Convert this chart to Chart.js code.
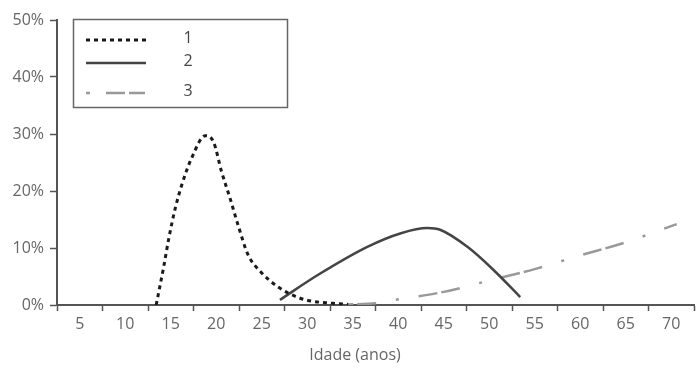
<!DOCTYPE html>
<html>
<head>
<meta charset="utf-8">
<script src="https://cdn.jsdelivr.net/npm/chart.js@4"></script>
<style>
  html, body { margin: 0; padding: 0; background: #fff; }
  #wrap { width: 698px; height: 379px; }
</style>
</head>
<body>
<div id="wrap"><canvas id="chart" width="698" height="379"></canvas></div>
<script>
// age (years) and share (%)
const s1Age = [13.4, 14.2, 14.8, 15.5, 16.2, 17.3, 18.8, 19.7, 20.6, 21.5, 22.4, 23.5, 24.9, 26.5, 27.9, 29.8, 32.8, 34.5];
const s1Pct = [0, 6.5, 11.8, 17, 21, 25.8, 29.7, 28.6, 23.3, 18.8, 14, 8.8, 5.8, 3.5, 2.1, 0.9, 0.3, 0.1];

const s2Age = [27.0, 31.2, 36.6, 40.3, 43.2, 44.6, 47.6, 50.5, 53.4];
const s2Pct = [0.9, 5.3, 10.2, 12.6, 13.5, 13.2, 10.2, 6.1, 1.4];

const s3Age = [34.5, 37.5, 40, 45, 50, 55, 60, 65, 70.6];
const s3Pct = [0.1, 0.3, 1.0, 2.3, 4.3, 6.3, 8.7, 11.0, 14.2];

const seriesNames = ['1', '2', '3'];
const xLabels = [5, 10, 15, 20, 25, 30, 35, 40, 45, 50, 55, 60, 65, 70];
const yTicks = [0, 10, 20, 30, 40, 50];
const xTitle = 'Idade (anos)';

const FONT = '"Open Sans", "Noto Sans", sans-serif';
const TXT = '#666';

function pts(xs, ys) {
    return xs.map((x, i) => ({ x: x, y: ys[i] }));
}

// legend box + axis title drawn by hand
const extras = {
    id: 'extras',
    afterDraw(chart) {
        const ctx = chart.ctx;
        ctx.save();
        ctx.strokeStyle = '#666';
        ctx.lineWidth = 1.5;
        ctx.strokeRect(73.5, 19.5, 214, 88);

        const rows = [40, 63, 93];
        chart.data.datasets.forEach((ds, i) => {
            ctx.beginPath();
            ctx.setLineDash(ds.legendDash || ds.borderDash || []);
            ctx.lineDashOffset = 0;
            ctx.strokeStyle = ds.borderColor;
            ctx.lineWidth = ds.borderWidth;
            ctx.moveTo(86, rows[i]);
            ctx.lineTo(146, rows[i]);
            ctx.stroke();
            ctx.setLineDash([]);
            ctx.fillStyle = '#444';
            ctx.font = '16px ' + FONT;
            ctx.textAlign = 'center';
            ctx.textBaseline = 'middle';
            ctx.fillText(ds.label, 188, rows[i] - 2);
        });

        ctx.fillStyle = TXT;
        ctx.font = '16px ' + FONT;
        ctx.textAlign = 'center';
        ctx.textBaseline = 'middle';
        ctx.fillText(xTitle, 355, 355);
        ctx.restore();
    }
};

new Chart(document.getElementById('chart'), {
    type: 'line',
    data: {
        datasets: [
            {
                label: seriesNames[0],
                data: pts(s1Age, s1Pct),
                borderColor: '#1a1a1a',
                borderWidth: 3,
                borderDash: [4, 4],
                pointRadius: 0,
                cubicInterpolationMode: 'monotone'
            },
            {
                label: seriesNames[1],
                data: pts(s2Age, s2Pct),
                borderColor: '#444',
                borderWidth: 2.5,
                pointRadius: 0,
                cubicInterpolationMode: 'monotone'
            },
            {
                label: seriesNames[2],
                data: pts(s3Age, s3Pct),
                borderColor: '#999',
                borderWidth: 2.5,
                borderDash: [3, 20, 19, 4, 19, 20],
                borderDashOffset: 37,
                legendDash: [4, 16, 19, 4, 16, 20],
                pointRadius: 0,
                cubicInterpolationMode: 'monotone'
            }
        ]
    },
    options: {
        responsive: false,
        animation: false,
        layout: { padding: { top: 20, right: 1, left: 0, bottom: 0 } },
        plugins: {
            legend: { display: false },
            tooltip: { enabled: false }
        },
        scales: {
            x: {
                type: 'linear',
                min: 2.5,
                max: 72.5,
                afterBuildTicks(scale) {
                    const t = [];
                    for (let i = 0; i <= xLabels.length; i++) {
                        t.push({ value: xLabels[0] - 2.5 + i * 5 });
                        if (i < xLabels.length) t.push({ value: xLabels[i] });
                    }
                    scale.ticks = t;
                },
                afterFit(scale) { scale.height = 74; },
                border: { color: '#555', width: 2 },
                grid: {
                    drawOnChartArea: false,
                    tickLength: 6,
                    tickWidth: 1.5,
                    tickColor: (c) => (c.tick && xLabels.indexOf(c.tick.value) >= 0) ? 'rgba(0,0,0,0)' : '#555'
                },
                ticks: {
                    autoSkip: false,
                    maxRotation: 0,
                    padding: 4,
                    color: TXT,
                    font: { family: FONT, size: 16 },
                    callback: (v) => xLabels.indexOf(v) >= 0 ? String(v) : ''
                }
            },
            y: {
                min: 0,
                max: 50,
                afterBuildTicks(scale) {
                    scale.ticks = yTicks.map(v => ({ value: v }));
                },
                afterFit(scale) { scale.width = 57; },
                border: { color: '#555', width: 2 },
                grid: {
                    drawOnChartArea: false,
                    tickLength: 7,
                    tickWidth: 1.5,
                    tickColor: '#555'
                },
                ticks: {
                    padding: 6,
                    color: TXT,
                    font: { family: FONT, size: 16 },
                    callback: (v) => v + '%'
                }
            }
        }
    },
    plugins: [extras]
});
</script>
</body>
</html>
